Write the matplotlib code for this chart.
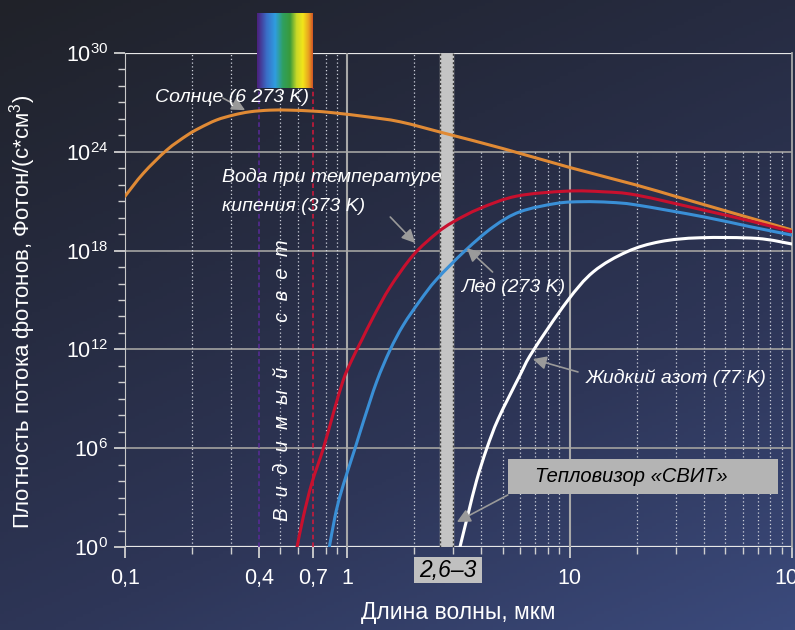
import numpy as np
import matplotlib.pyplot as plt
from matplotlib import font_manager
from matplotlib.colors import LinearSegmentedColormap
from matplotlib.patches import Rectangle, PathPatch
from matplotlib.path import Path

# values: wavelength (um) and log10 of photon flux density
sun_wl = [0.1, 0.121, 0.154, 0.19, 0.217, 0.258, 0.307, 0.365, 0.449, 0.552, 0.703, 0.865, 1.22,
          1.73, 2.75, 5.0, 10, 19.7, 29.8, 40, 100]
sun_log = [21.3, 22.7, 24.1, 25.0, 25.45, 25.93, 26.23, 26.43, 26.53, 26.53, 26.47, 26.37, 26.13,
           25.82, 25.12, 24.2, 23.05, 22.0, 21.3, 20.8, 19.25]

water_wl = [0.594, 0.634, 0.692, 0.78, 0.865, 0.959, 1.047, 1.161, 1.31, 1.56, 1.98, 2.52, 3.0,
            3.95, 5.78, 9.7, 14.2, 20.0, 40.0, 64.9, 100]
water_log = [0.0, 1.84, 3.87, 5.99, 8.12, 10.14, 11.35, 12.57, 13.98, 15.8, 17.73, 19.05, 19.75,
             20.56, 21.31, 21.61, 21.57, 21.37, 20.46, 19.8, 19.15]

ice_wl = [0.83, 0.88, 0.927, 1.0, 1.083, 1.18, 1.355, 1.556, 1.786, 2.12, 2.52, 3.39, 4.54,
          5.98, 8.75, 11.5, 15.2, 20.0, 40.0, 64.9, 100]
ice_log = [0.0, 1.84, 3.1, 4.55, 5.99, 7.6, 10.04, 11.96, 13.48, 14.95, 16.25, 18.0, 19.45,
           20.36, 20.87, 20.97, 20.93, 20.77, 20.05, 19.45, 18.94]

n2_wl = [3.21, 3.5, 3.82, 4.24, 4.78, 5.98, 6.8, 9.7, 12.8, 18.1, 25.5, 38.6, 69.5, 100]
n2_log = [0.0, 2.05, 4.07, 5.99, 7.8, 10.44, 11.85, 14.89, 16.72, 17.93, 18.54, 18.78, 18.74, 18.4]

x_ticks = [0.1, 0.4, 0.7, 1, 10, 100]
x_labels = ["0,1", "0,4", "0,7", "1", "10", "100"]
y_powers = [0, 6, 12, 18, 24, 30]

installed = {f.name for f in font_manager.fontManager.ttflist}
main_font = next(f for f in ["Liberation Sans Narrow", "Liberation Sans", "DejaVu Sans"] if f in installed)
plt.rcParams["font.family"] = [main_font, "DejaVu Sans"]


def spline_path(wl, logs):
    # smooth line through the read points (Catmull-Rom drawn as cubic Bezier in log-log space)
    lx = np.log10(wl)
    ly = np.array(logs, dtype=float)
    pts = np.column_stack([lx, ly])
    verts = [pts[0]]
    codes = [Path.MOVETO]
    for i in range(len(pts) - 1):
        p0 = pts[max(i - 1, 0)]
        p1, p2 = pts[i], pts[i + 1]
        p3 = pts[min(i + 2, len(pts) - 1)]
        verts += [p1 + (p2 - p0) / 6, p2 - (p3 - p1) / 6, p2]
        codes += [Path.CURVE4] * 3
    verts = 10.0 ** np.array(verts)
    return Path(verts, codes)


fig = plt.figure(figsize=(7.95, 6.3), dpi=100)

# background gradient
bg = fig.add_axes([0, 0, 1, 1], zorder=-10)
gx, gy = np.meshgrid(np.linspace(0, 1, 200), np.linspace(0, 1, 200))
grad = np.clip(0.45 * gx + 0.8 * gy, 0, 1.25) / 1.25
bg_cmap = LinearSegmentedColormap.from_list("bg", ["#202229", "#262b40", "#2e3658", "#3b4a7c"])
bg.imshow(grad, cmap=bg_cmap, origin="upper", aspect="auto", extent=[0, 1, 0, 1])
bg.set_xlim(0, 1)
bg.set_ylim(0, 1)
bg.axis("off")

ax = fig.add_axes([125 / 795, 1 - 547 / 630, 667 / 795, 494 / 630])
ax.patch.set_alpha(0)
ax.set_xscale("log")
ax.set_yscale("log")

for s in ["top", "bottom"]:
    ax.spines[s].set_visible(False)
ax.spines["left"].set_color("#c8c8c8")
ax.spines["right"].set_color("#a8a8a8")
ax.spines["right"].set_linewidth(1.3)

# grid: horizontal lines
for p in y_powers:
    edge = p in (0, 30)
    ax.axhline(10.0 ** p, color="#e8e8e8" if edge else "#9a9a9a", lw=1.6 if edge else 1.3, zorder=1)

# vertical dotted grid lines
for dec in [0.1, 1, 10]:
    for m in range(2, 10):
        if dec == 0.1 and m in (4, 7):
            continue
        if dec == 1 and m == 3:
            continue
        top = 1e30 if (dec == 0.1 or (dec == 1 and m == 2)) else 1e24
        ax.vlines(dec * m, 1, top, colors="#cfd2dc", lw=0.9, linestyles=(0, (1, 2)), zorder=1)
ax.vlines(1, 1, 1e30, colors="#a8a8a8", lw=1.5, zorder=1)
ax.vlines(10, 1, 1e24, colors="#a8a8a8", lw=1.5, zorder=1)

# visible-light boundaries
ax.vlines(0.4, 1, 10 ** 27.87, colors="#5a2a9a", lw=1.1, linestyles=(0, (3, 2)), zorder=1)
ax.vlines(0.7, 1, 10 ** 27.87, colors="#d8183a", lw=1.1, linestyles=(0, (3, 2)), zorder=1)

# thermal imager band 2.6-3 um
ax.axvspan(2.6, 3.0, color="#c4c4c4", zorder=2)
ax.vlines([2.6, 3.0], 1, 1e30, colors="#3a3a3a", lw=1.0, linestyles=(0, (1.5, 1.5)), zorder=2)

# spectrum strip above 0.4-0.7 um
spec_cmap = LinearSegmentedColormap.from_list(
    "spec", ["#4a2280", "#3a6fc8", "#2f9ddf", "#2fa060", "#3a9a3a", "#c8d828", "#f2e41a", "#e8a020", "#c83a28"])
ax.imshow(np.linspace(0, 1, 256)[None, :], cmap=spec_cmap, aspect="auto",
          extent=[0.393, 0.708, 10 ** 27.87, 10 ** 32.48], clip_on=False, zorder=3)

# curves
for wl, logs, col in [(sun_wl, sun_log, "#e08a35"), (water_wl, water_log, "#c8102e"),
                      (ice_wl, ice_log, "#3a8fd6"), (n2_wl, n2_log, "white")]:
    ax.add_patch(PathPatch(spline_path(wl, logs), fc="none", ec=col, lw=2.2, zorder=4,
                           capstyle="round", joinstyle="round"))

ax.set_xlim(0.1, 100)
ax.set_ylim(1, 1e30)

# ticks
ax.set_yticks([10.0 ** p for p in y_powers])
ax.set_yticklabels([f"$\\mathregular{{10^{{{p}}}}}$" for p in y_powers])
ax.set_yticks([10.0 ** p for p in range(0, 31)], minor=True)
ax.yaxis.set_minor_formatter(plt.NullFormatter())
ax.set_xticks(x_ticks)
ax.set_xticklabels(x_labels)
ax.xaxis.set_minor_formatter(plt.NullFormatter())
ax.tick_params(axis="both", which="major", colors="#d0d0d0", labelcolor="white",
               labelsize=15.5, length=8, width=1.3, direction="out")
ax.tick_params(axis="both", which="minor", colors="#d0d0d0", length=5, width=1.0, direction="out")
ax.tick_params(axis="x", which="major", pad=7)
ax.tick_params(axis="y", which="major", pad=4)

ax.set_xlabel("Длина волны, мкм", color="white", fontsize=16.5, labelpad=9)
ax.set_ylabel("Плотность потока фотонов, Фотон/(с*см$\\mathregular{^3}$)", color="white",
              fontsize=16)
ax.yaxis.set_label_coords(-0.1304, 0.476)

# annotations
arrow = dict(arrowstyle="-|>", color="#9a9a9a", lw=1.2, mutation_scale=20, shrinkA=0, shrinkB=0)
txt = dict(color="white", fontsize=14, style="italic", zorder=6)
ax.annotate("", xy=(0.347, 10 ** 26.53), xytext=(0.276, 10 ** 27.26), arrowprops=arrow, zorder=5)
ax.text(0.1365, 10 ** 27.32, "Солнце (6 273 K)", va="center", **txt)

ax.text(0.273, 10 ** 21.6, "Вода при температуре\nкипения (373 K)", va="center",
        linespacing=1.9, **txt)
ax.annotate("", xy=(2.02, 10 ** 18.46), xytext=(1.56, 10 ** 20.04), arrowprops=arrow, zorder=5)

ax.text(3.23, 10 ** 15.79, "Лед (273 K)", va="center", **txt)
ax.annotate("", xy=(3.45, 10 ** 18.15), xytext=(4.5, 10 ** 16.7), arrowprops=arrow, zorder=5)

ax.text(11.8, 10 ** 10.26, "Жидкий азот (77 K)", va="center", **txt)
ax.annotate("", xy=(6.83, 10 ** 11.41), xytext=(10.9, 10 ** 10.63), arrowprops=arrow, zorder=5)

ax.add_patch(Rectangle((5.27, 10 ** 3.22), 86.6 - 5.27, 10 ** 5.34 - 10 ** 3.22,
                       fc="#b4b4b4", ec="none", zorder=6))
ax.text(18.9, 10 ** 4.28, "Тепловизор «СВИТ»", ha="center", va="center", color="black",
        fontsize=14.5, style="italic", zorder=7)
ax.annotate("", xy=(3.11, 10 ** 1.52), xytext=(5.27, 10 ** 3.16), arrowprops=arrow, zorder=5)

ax.text(0.509, 10 ** 10.14, "В  и  д  и  м  ы  й        с  в  е  т", rotation=90,
        ha="center", va="center", color="white", fontsize=14.5, style="italic", zorder=5)

ax.add_patch(Rectangle((1.995, 10 ** -2.19), 4.04 - 1.995, 10 ** -0.61 - 10 ** -2.19,
                       fc="#c0c0c0", ec="none", zorder=6, clip_on=False))
ax.text(2.84, 10 ** -1.4, "2,6–3", ha="center", va="center", color="black",
        fontsize=16.5, style="italic", zorder=7, clip_on=False)

fig.savefig("out.png", dpi=100)
